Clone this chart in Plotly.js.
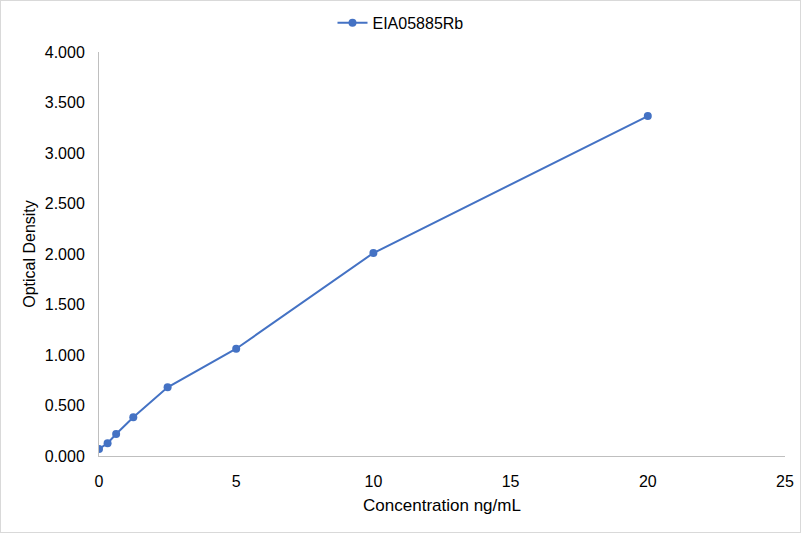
<!DOCTYPE html>
<html><head><meta charset="utf-8">
<script src="https://cdn.plot.ly/plotly-3.0.1.min.js"></script>
<style>html,body{margin:0;padding:0;background:#fff}#chart{width:801px;height:533px;box-sizing:border-box;border:1px solid #d9d9d9}</style>
</head><body><div id="chart"></div>
<script>
const concentration = [0, 0.3125, 0.625, 1.25, 2.5, 5, 10, 20];
const opticalDensity = [0.069, 0.126, 0.218, 0.383, 0.680, 1.062, 2.010, 3.366];
const seriesName = 'EIA05885Rb';
const yTicks = [0, 0.5, 1, 1.5, 2, 2.5, 3, 3.5, 4];
const yTickLabels = ['0.000','0.500','1.000','1.500','2.000','2.500','3.000','3.500','4.000'];
const xTicks = [0, 5, 10, 15, 20, 25];

const trace = {
  x: concentration, y: opticalDensity, name: seriesName,
  type: 'scatter', mode: 'lines+markers',
  line: {color: '#4472C4', width: 2},
  marker: {color: '#4472C4', size: 8}
};
const layout = {
  width: 799, height: 531,
  margin: {l: 98, r: 15, t: 51, b: 76, autoexpand: false},
  paper_bgcolor: '#fff', plot_bgcolor: '#fff',
  font: {family: 'Liberation Sans, Arial, sans-serif', size: 16, color: '#000'},
  showlegend: true,
  legend: {orientation: 'h', xref: 'container', yref: 'container', x: 0.5, xanchor: 'center', y: 0.959, yanchor: 'middle', font: {size: 16, color: '#000'}},
  xaxis: {
    range: [0, 25], tickvals: xTicks, showgrid: false, zeroline: false,
    showline: true, linecolor: '#bfbfbf', linewidth: 1, ticks: '', ticklabelstandoff: 11,
    automargin: false,
    title: {text: 'Concentration ng/mL', font: {size: 17}, standoff: 9}
  },
  yaxis: {
    range: [0, 4], tickvals: yTicks, ticktext: yTickLabels, showgrid: false, zeroline: false,
    showline: true, linecolor: '#bfbfbf', linewidth: 1, ticks: '', ticklabelstandoff: 10,
    automargin: false,
    title: {text: 'Optical Density', font: {size: 16}, standoff: 5}
  }
};
Plotly.newPlot('chart', [trace], layout, {displayModeBar: false});
</script></body></html>
